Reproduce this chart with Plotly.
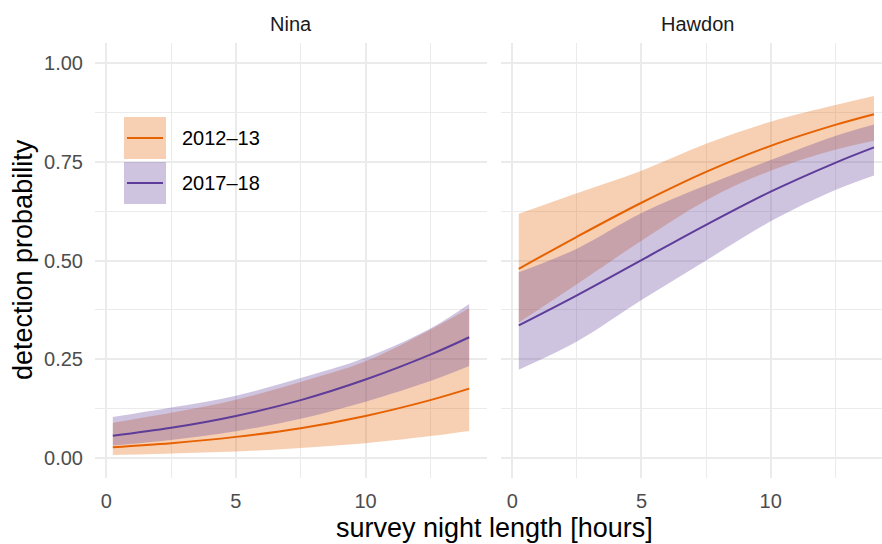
import plotly.graph_objects as go

# ---- data ----
x_hours = [0.25, 2.5, 5, 7.5, 10, 12.5, 14]
periods = ["2012–13", "2017–18"]
sites = ["Nina", "Hawdon"]

nina_2012_mean = [0.028, 0.038, 0.054, 0.076, 0.107, 0.147, 0.176]
nina_2012_lo = [0.008, 0.012, 0.017, 0.026, 0.038, 0.056, 0.069]
nina_2012_hi = [0.090, 0.115, 0.148, 0.193, 0.245, 0.325, 0.379]
nina_2017_mean = [0.057, 0.077, 0.107, 0.147, 0.199, 0.262, 0.306]
nina_2017_lo = [0.032, 0.046, 0.068, 0.100, 0.143, 0.195, 0.233]
nina_2017_hi = [0.104, 0.128, 0.158, 0.203, 0.254, 0.328, 0.390]

hawdon_2012_mean = [0.479, 0.560, 0.646, 0.724, 0.790, 0.843, 0.870]
hawdon_2012_lo = [0.343, 0.440, 0.550, 0.652, 0.727, 0.780, 0.803]
hawdon_2012_hi = [0.618, 0.670, 0.727, 0.795, 0.851, 0.893, 0.916]
hawdon_2017_mean = [0.336, 0.412, 0.501, 0.590, 0.674, 0.747, 0.786]
hawdon_2017_lo = [0.224, 0.295, 0.400, 0.500, 0.599, 0.678, 0.715]
hawdon_2017_hi = [0.470, 0.530, 0.620, 0.690, 0.754, 0.815, 0.844]

y_ticks = [0, 0.25, 0.5, 0.75, 1.0]
x_ticks = [0, 5, 10]

line_cols = {"2012–13": "#E66101", "2017–18": "#5E3C99"}
fill_cols = {"2012–13": "rgba(230,97,1,0.3)", "2017–18": "rgba(94,60,153,0.3)"}

data = {
    ("Nina", "2012–13"): (nina_2012_mean, nina_2012_lo, nina_2012_hi),
    ("Nina", "2017–18"): (nina_2017_mean, nina_2017_lo, nina_2017_hi),
    ("Hawdon", "2012–13"): (hawdon_2012_mean, hawdon_2012_lo, hawdon_2012_hi),
    ("Hawdon", "2017–18"): (hawdon_2017_mean, hawdon_2017_lo, hawdon_2017_hi),
}

W, H = 882, 544
FONT = "Liberation Sans, Arial, sans-serif"
fig = go.Figure()

axes = {"Nina": ("x", "y"), "Hawdon": ("x2", "y2")}

for site in sites:
    xa, ya = axes[site]
    for p in periods:
        mean, lo, hi = data[(site, p)]
        fig.add_trace(go.Scatter(x=x_hours, y=lo, mode="lines", line=dict(width=0, shape="spline"),
                                 xaxis=xa, yaxis=ya, showlegend=False, hoverinfo="skip"))
        fig.add_trace(go.Scatter(x=x_hours, y=hi, mode="lines", line=dict(width=0, shape="spline"),
                                 fill="tonexty", fillcolor=fill_cols[p],
                                 xaxis=xa, yaxis=ya, showlegend=False, hoverinfo="skip"))
    for p in periods:
        mean, lo, hi = data[(site, p)]
        fig.add_trace(go.Scatter(x=x_hours, y=mean, mode="lines",
                                 line=dict(color=line_cols[p], width=2, shape="spline"),
                                 xaxis=xa, yaxis=ya, showlegend=False, name=p))

grid = "#EBEBEB"
y_dom = [(H - 478) / H, (H - 43) / H]
tickfont = dict(family=FONT, size=20, color="#4D4D4D")


def xaxis_cfg(domain, rng, anchor):
    return dict(
        domain=domain, range=rng, anchor=anchor,
        tickvals=x_ticks, ticktext=[str(v) for v in x_ticks],
        showgrid=True, gridcolor=grid, gridwidth=1.7, zeroline=False, showline=False,
        ticks="", tickfont=tickfont, ticklabelstandoff=9,
        minor=dict(dtick=2.5, tick0=0, showgrid=True, gridcolor=grid, gridwidth=0.9),
    )


def yaxis_cfg(anchor, labels):
    return dict(
        domain=y_dom, range=[-0.05, 1.05], anchor=anchor,
        tickvals=y_ticks, ticktext=[f"{v:.2f}" for v in y_ticks],
        showticklabels=labels,
        showgrid=True, gridcolor=grid, gridwidth=1.7, zeroline=False, ticks="",
        tickfont=tickfont, ticklabelstandoff=11,
        minor=dict(dtick=0.125, tick0=0, showgrid=True, gridcolor=grid, gridwidth=0.9),
    )


fig.update_layout(
    width=W, height=H,
    margin=dict(l=0, r=0, t=0, b=0),
    paper_bgcolor="white", plot_bgcolor="white",
    showlegend=False,
    font=dict(family=FONT, color="#000000"),
    xaxis=xaxis_cfg([95 / W, 487 / W], [-0.4375, 14.6875], "y"),
    xaxis2=xaxis_cfg([501 / W, 1.0], [-0.4375, 14.31], "y2"),
    yaxis=yaxis_cfg("x", True),
    yaxis2=yaxis_cfg("x2", False),
)


def ann(text, px, py, size, color, angle=0, xanchor="center"):
    return dict(text=text, x=px / W, y=(H - py) / H, xref="paper", yref="paper",
                xanchor=xanchor, yanchor="middle", showarrow=False, textangle=angle,
                font=dict(family=FONT, size=size, color=color))


annos = [
    ann("Nina", (95 + 487) / 2, 24, 20, "#1A1A1A"),
    ann("Hawdon", 697, 24, 20, "#1A1A1A"),
    ann("survey night length [hours]", 495, 528, 27, "#000000"),
    ann("detection probability", 23, 260, 27, "#000000", angle=-90),
]

# legend (drawn manually to mimic ribbon+line keys)
legend_rows = [(117, 159), (162, 204)]
for p, (y0, y1) in zip(periods, legend_rows):
    fig.add_shape(type="rect", xref="paper", yref="paper",
                  x0=124 / W, x1=166 / W, y0=(H - y1) / H, y1=(H - y0) / H,
                  fillcolor=fill_cols[p], line=dict(width=0))
    ym = (y0 + y1) / 2
    fig.add_shape(type="line", xref="paper", yref="paper",
                  x0=127 / W, x1=163 / W, y0=(H - ym) / H, y1=(H - ym) / H,
                  line=dict(color=line_cols[p], width=2))
    annos.append(ann(p, 180, ym, 20, "#000000", xanchor="left"))

fig.update_layout(annotations=annos)
fig.write_html("out.html")
